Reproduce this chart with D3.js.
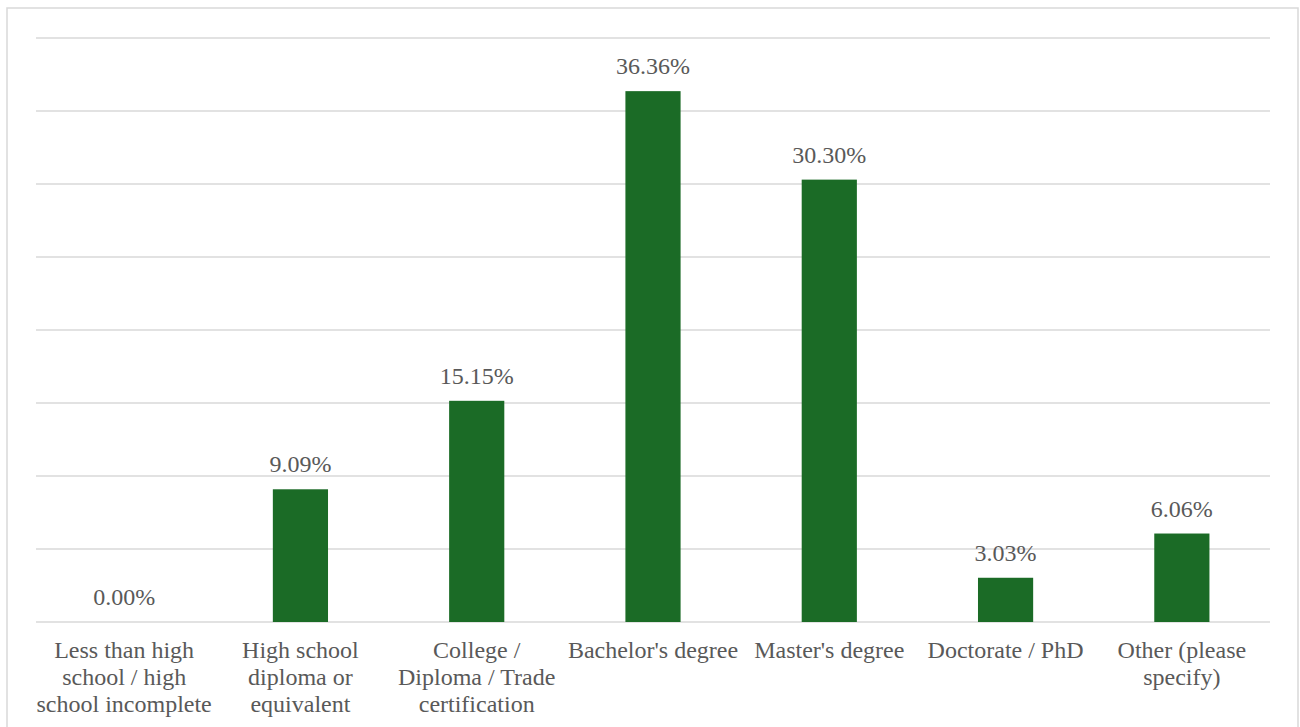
<!DOCTYPE html>
<html>
<head>
<meta charset="utf-8">
<script src="https://cdn.jsdelivr.net/npm/d3@7"></script>
<style>
  html, body { margin: 0; padding: 0; background: #fff; }
  svg { display: block; }
  svg text { font-family: "Liberation Serif", "DejaVu Serif", serif; }
</style>
</head>
<body>
<svg id="chart" width="1300" height="727"></svg>
<script>
// Education level of respondents (share of responses, %)
const categories = [
  ["Less than high", "school / high", "school incomplete"],
  ["High school", "diploma or", "equivalent"],
  ["College /", "Diploma / Trade", "certification"],
  ["Bachelor's degree"],
  ["Master's degree"],
  ["Doctorate / PhD"],
  ["Other (please", "specify)"]
];
const values = [0.00, 9.09, 15.15, 36.36, 30.30, 3.03, 6.06];
const yTicks = [0, 5, 10, 15, 20, 25, 30, 35, 40];

(function () {
  const svg = d3.select("#chart");
  const plot = { left: 36, right: 1270, top: 38, bottom: 622 };
  const textColor = "#595959";
  const fontSize = 24;

  // outer chart frame
  svg.append("rect")
    .attr("x", 7).attr("y", 8)
    .attr("width", 1291).attr("height", 740)
    .attr("fill", "#fff")
    .attr("stroke", "#d9d9d9").attr("stroke-width", 1.5);

  const x = d3.scaleBand()
    .domain(d3.range(categories.length))
    .range([plot.left, plot.right])
    .paddingInner(0.687)
    .paddingOuter(0.3435);

  const y = d3.scaleLinear().domain([0, 40]).range([plot.bottom, plot.top]);

  // horizontal gridlines
  svg.append("g")
    .selectAll("line")
    .data(yTicks)
    .join("line")
    .attr("x1", plot.left).attr("x2", plot.right)
    .attr("y1", d => y(d)).attr("y2", d => y(d))
    .attr("stroke", "#d9d9d9").attr("stroke-width", 1.5);

  // bars
  svg.append("g")
    .selectAll("rect")
    .data(values)
    .join("rect")
    .attr("x", (d, i) => x(i))
    .attr("width", x.bandwidth())
    .attr("y", d => y(d))
    .attr("height", d => y(0) - y(d))
    .attr("fill", "#1b6b26");

  // value labels
  svg.append("g")
    .selectAll("text")
    .data(values)
    .join("text")
    .attr("x", (d, i) => x(i) + x.bandwidth() / 2)
    .attr("y", d => y(d) - 17)
    .attr("text-anchor", "middle")
    .attr("font-size", fontSize)
    .attr("fill", textColor)
    .text(d => d.toFixed(2) + "%");

  // category labels
  const labels = svg.append("g")
    .selectAll("text")
    .data(categories)
    .join("text")
    .attr("text-anchor", "middle")
    .attr("font-size", fontSize)
    .attr("fill", textColor);

  labels.selectAll("tspan")
    .data((d, i) => d.map(line => ({ line, i })))
    .join("tspan")
    .attr("x", d => x(d.i) + x.bandwidth() / 2)
    .attr("y", (d, j) => 657.5 + j * 27)
    .text(d => d.line);
})();
</script>
</body>
</html>
